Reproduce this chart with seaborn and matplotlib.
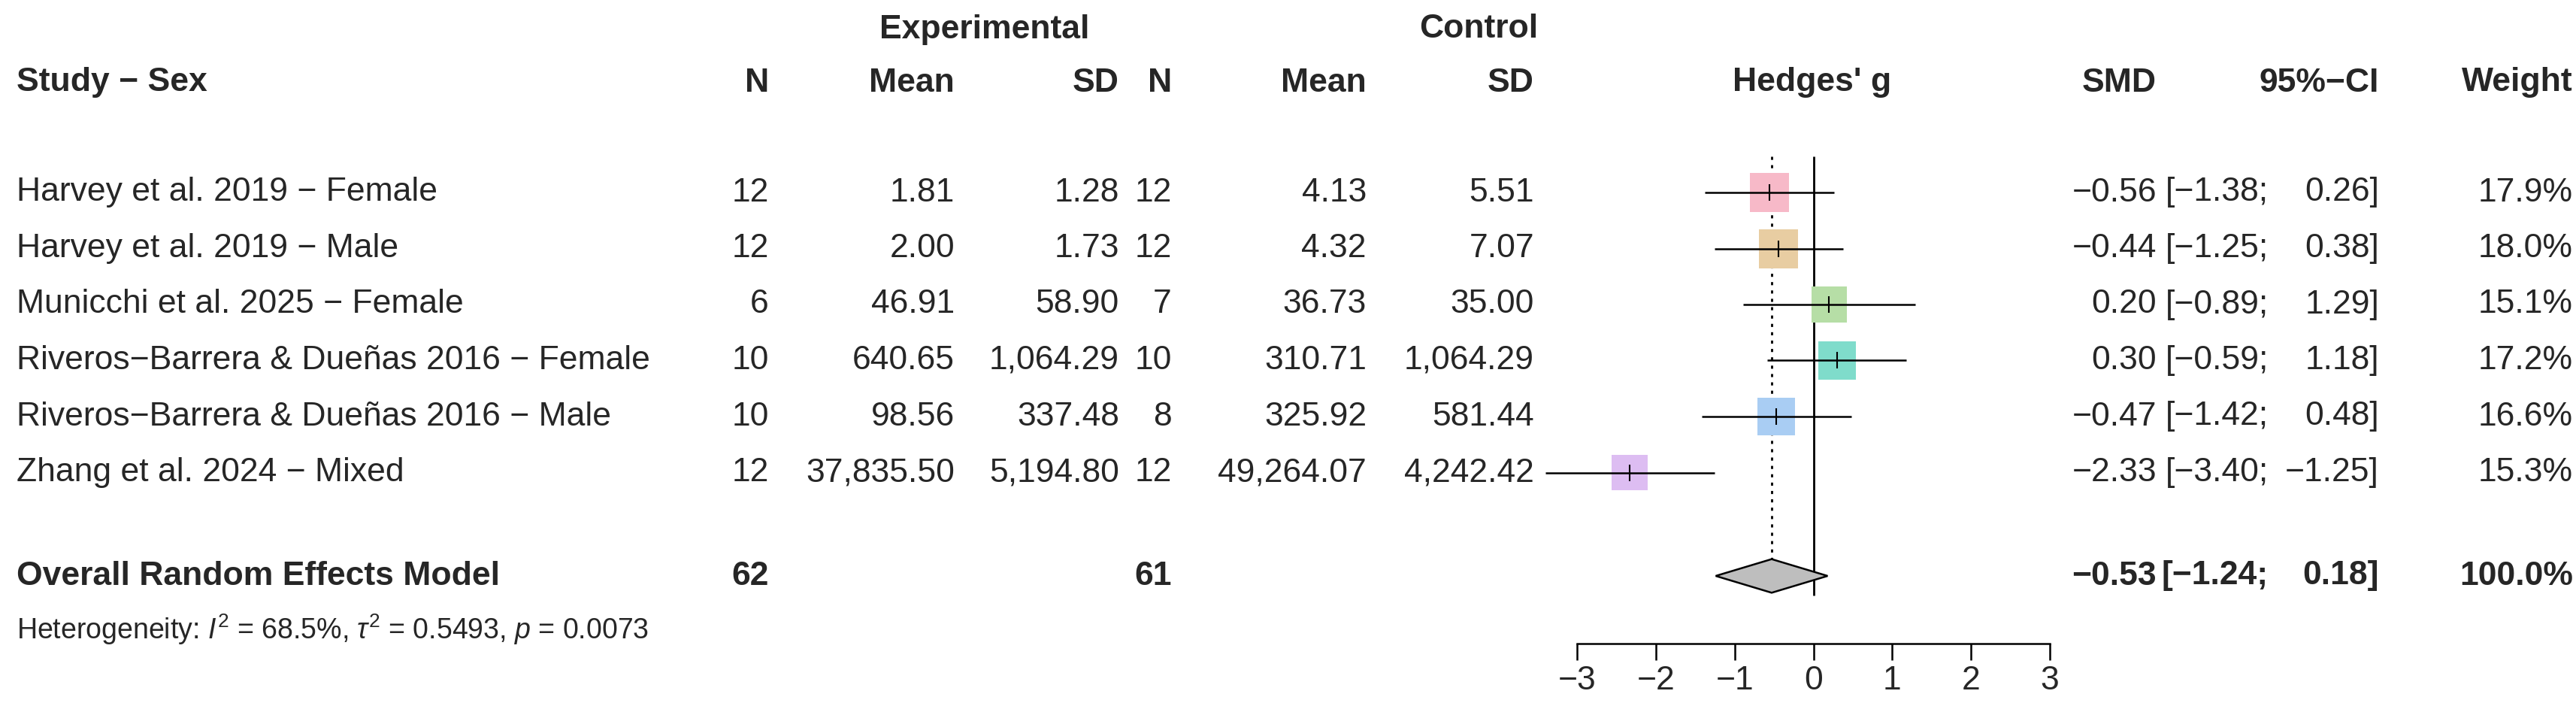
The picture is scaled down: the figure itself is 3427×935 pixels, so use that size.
import matplotlib
matplotlib.use("Agg")
import matplotlib.pyplot as plt
import seaborn as sns
import pandas as pd
import numpy as np

sns.set_theme(style="white")
plt.rcParams['font.family'] = ['Liberation Sans', 'DejaVu Sans']
plt.rcParams['mathtext.fontset'] = 'custom'
plt.rcParams['mathtext.rm'] = 'Liberation Sans'
plt.rcParams['mathtext.it'] = 'Liberation Sans:italic'

studies = ["Harvey et al. 2019 \u2212 Female", "Harvey et al. 2019 \u2212 Male",
           "Municchi et al. 2025 \u2212 Female", "Riveros\u2212Barrera & Due\u00f1as 2016 \u2212 Female",
           "Riveros\u2212Barrera & Due\u00f1as 2016 \u2212 Male", "Zhang et al. 2024 \u2212 Mixed"]
n_exp = [12, 12, 6, 10, 10, 12]
mean_exp = ["1.81", "2.00", "46.91", "640.65", "98.56", "37,835.50"]
sd_exp = ["1.28", "1.73", "58.90", "1,064.29", "337.48", "5,194.80"]
n_ctl = [12, 12, 7, 10, 8, 12]
mean_ctl = ["4.13", "4.32", "36.73", "310.71", "325.92", "49,264.07"]
sd_ctl = ["5.51", "7.07", "35.00", "1,064.29", "581.44", "4,242.42"]
smd = [-0.56, -0.44, 0.20, 0.30, -0.47, -2.33]
lower = [-1.38, -1.25, -0.89, -0.59, -1.42, -3.40]
upper = [0.26, 0.38, 1.29, 1.18, 0.48, -1.25]
weight = [17.9, 18.0, 15.1, 17.2, 16.6, 15.3]
colors = ["#F7B9C8", "#E8CDA2", "#B6DEA6", "#7FDCCB", "#A9CDF3", "#DDBDF2"]
overall = dict(n_exp=62, n_ctl=61, smd=-0.53, lower=-1.24, upper=0.18, weight=100.0)
ticks = [-3, -2, -1, 0, 1, 2, 3]

W, H = 3427, 935
fig = plt.figure(figsize=(W / 100, H / 100), dpi=100)
FS = 32
m = lambda v: f"{v:.2f}".replace("-", "\u2212")

tx = fig.add_axes([0, 0, 1, 1])
tx.set_xlim(0, W); tx.set_ylim(H, 0); tx.axis("off")
row_y = lambda i: 256 + 74.5 * i
hy1, hy2 = 39, 110
tx.text(1310, hy1, "Experimental", ha="center", va="center", fontsize=FS, weight="bold")
tx.text(1967, hy1, "Control", ha="center", va="center", fontsize=FS, weight="bold")
heads = [(22, "Study \u2212 Sex", "left"), (1023, "N", "right"), (1270, "Mean", "right"),
         (1489, "SD", "right"), (1559, "N", "right"), (1818, "Mean", "right"),
         (2041, "SD", "right"), (2411, "Hedges' g", "center"), (2869, "SMD", "right"),
         (3165, "95%\u2212CI", "right"), (3423, "Weight", "right")]
for x, t, ha in heads:
    tx.text(x, hy2, t, ha=ha, va="center", fontsize=FS, weight="bold")

for i in range(len(studies)):
    y = row_y(i)
    vals = [(22, studies[i], "left"), (1023, str(n_exp[i]), "right"), (1270, mean_exp[i], "right"),
            (1489, sd_exp[i], "right"), (1559, str(n_ctl[i]), "right"), (1818, mean_ctl[i], "right"),
            (2041, sd_ctl[i], "right"), (2869, m(smd[i]), "right"),
            (3018, "[" + m(lower[i]) + ";", "right"), (3165, m(upper[i]) + "]", "right"),
            (3423, f"{weight[i]:.1f}%", "right")]
    for x, t, ha in vals:
        tx.text(x, y, t, ha=ha, va="center", fontsize=FS)

yo = 766
for x, t, ha in [(22, "Overall Random Effects Model", "left"), (1023, str(overall["n_exp"]), "right"),
                 (1559, str(overall["n_ctl"]), "right"), (2869, m(overall["smd"]), "right"),
                 (3018, "[" + m(overall["lower"]) + ";", "right"), (3165, m(overall["upper"]) + "]", "right"),
                 (3423, f"{overall['weight']:.1f}%", "right")]:
    tx.text(x, yo, t, ha=ha, va="center", fontsize=FS, weight="bold")
tx.text(22, 837, r"Heterogeneity: $\it{I}^2$ = 68.5%, $\tau^2$ = 0.5493, $\it{p}$ = 0.0073",
        ha="left", va="center", fontsize=27)

x0, x1, ytop, ybot = 2098, 2727, 208, 856
ax = fig.add_axes([x0 / W, 1 - ybot / H, (x1 - x0) / W, (ybot - ytop) / H])
ax.patch.set_alpha(0)
ax.set_xlim(-3, 3)
ax.set_ylim((ybot - 256) / 74.5, (ytop - 256) / 74.5)
oy = (yo - 256) / 74.5
idx = np.arange(len(studies))
ax.vlines(0, (ytop - 256) / 74.5, oy + 0.35, color="black", lw=2)
ax.vlines(overall["smd"], (ytop - 256) / 74.5, oy - 0.3, color="black", lw=2, linestyles=(0, (1.5, 2.5)))
df = pd.DataFrame(dict(smd=smd, y=idx, w=weight, study=studies))
side = lambda w: (52 * np.sqrt(w / 18.0) * 0.72) ** 2
sns.scatterplot(data=df, x="smd", y="y", hue="study", palette=colors, size="w",
                sizes=(side(min(weight)), side(max(weight))), size_norm=(min(weight), max(weight)),
                marker="s", linewidth=0, legend=False, ax=ax, zorder=2, clip_on=False)
ax.hlines(idx, lower, upper, color="black", lw=1.8, zorder=3, clip_on=False)
ax.scatter(smd, idx, marker="|", s=250, color="black", lw=1.5, zorder=4)
ax.fill([overall["lower"], overall["smd"], overall["upper"], overall["smd"]],
        [oy, oy - 0.3, oy, oy + 0.3], facecolor="#BEBEBE", edgecolor="black", lw=1.8, zorder=3)
for s in ["top", "left", "right"]:
    ax.spines[s].set_visible(False)
ax.spines["bottom"].set_linewidth(1.8)
ax.spines["bottom"].set_color("black")
ax.set_yticks([])
ax.set_xticks(ticks)
ax.set_xticklabels([str(t).replace("-", "\u2212") for t in ticks])
ax.tick_params(axis="x", direction="out", length=16, width=1.8, labelsize=FS, pad=5, bottom=True, color="black")
ax.set_xlabel(""); ax.set_ylabel("")

fig.savefig("out.png", dpi=100, facecolor="white")
